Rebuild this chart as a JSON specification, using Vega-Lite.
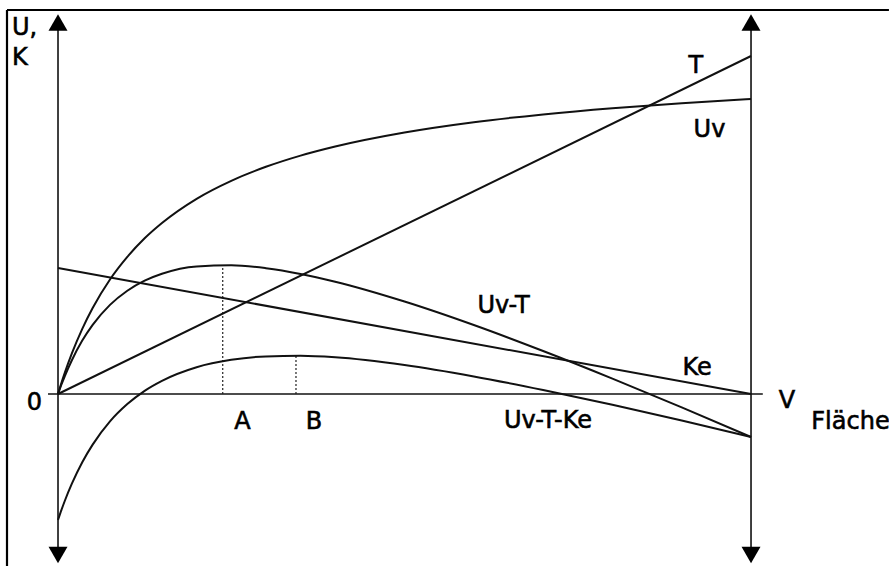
{
  "$schema": "https://vega.github.io/schema/vega-lite/v6.json",
  "width": 889,
  "height": 566,
  "autosize": {"type": "none"},
  "padding": 0,
  "background": "white",
  "config": {"view": {"stroke": null}},
  "datasets": {
    "frame": [
      {"x": -0.736, "x2": 11.99, "y": 384, "y2": 384},
      {"x": -0.736, "x2": -0.736, "y": 384, "y2": -172}
    ],
    "axes": [
      {"x": 0, "x2": 0, "y": -160, "y2": 366},
      {"x": 10, "x2": 10, "y": -160, "y2": 366},
      {"x": -0.144, "x2": 10.17, "y": 0, "y2": 0}
    ],
    "arrows": [
      {"x": 0, "y": 371.5, "shape": "triangle-up"},
      {"x": 10, "y": 371.5, "shape": "triangle-up"},
      {"x": 0, "y": -161, "shape": "triangle-down"},
      {"x": 10, "y": -161, "shape": "triangle-down"}
    ],
    "guides": [
      {"x": 2.377, "y": 0, "y2": 128},
      {"x": 3.434, "y": 0, "y2": 38}
    ],
    "curves": [
      {"series": "T", "x": 0, "value": 0},
      {"series": "T", "x": 10, "value": 338},
      {"series": "Ke", "x": 0, "value": 126},
      {"series": "Ke", "x": 10, "value": 0},
      {"series": "Uv", "x": 0, "value": 0},
      {"series": "Uv", "x": 0.05, "value": 11.2},
      {"series": "Uv", "x": 0.1, "value": 21.6},
      {"series": "Uv", "x": 0.2, "value": 40.6},
      {"series": "Uv", "x": 0.35, "value": 65.2},
      {"series": "Uv", "x": 0.5, "value": 86.0},
      {"series": "Uv", "x": 0.75, "value": 114.5},
      {"series": "Uv", "x": 1, "value": 137.1},
      {"series": "Uv", "x": 1.25, "value": 155.7},
      {"series": "Uv", "x": 1.5, "value": 171.0},
      {"series": "Uv", "x": 2, "value": 195.2},
      {"series": "Uv", "x": 2.5, "value": 213.2},
      {"series": "Uv", "x": 3, "value": 227.2},
      {"series": "Uv", "x": 3.5, "value": 238.4},
      {"series": "Uv", "x": 4, "value": 247.5},
      {"series": "Uv", "x": 5, "value": 261.5},
      {"series": "Uv", "x": 6, "value": 271.8},
      {"series": "Uv", "x": 7, "value": 279.6},
      {"series": "Uv", "x": 8, "value": 285.8},
      {"series": "Uv", "x": 9, "value": 290.8},
      {"series": "Uv", "x": 10, "value": 295.0},
      {"series": "Uv-T", "x": 0, "value": 0},
      {"series": "Uv-T", "x": 0.05, "value": 9.5},
      {"series": "Uv-T", "x": 0.1, "value": 18.2},
      {"series": "Uv-T", "x": 0.2, "value": 33.8},
      {"series": "Uv-T", "x": 0.35, "value": 53.4},
      {"series": "Uv-T", "x": 0.5, "value": 69.1},
      {"series": "Uv-T", "x": 0.75, "value": 89.1},
      {"series": "Uv-T", "x": 1, "value": 103.3},
      {"series": "Uv-T", "x": 1.25, "value": 113.4},
      {"series": "Uv-T", "x": 1.5, "value": 120.3},
      {"series": "Uv-T", "x": 2, "value": 127.6},
      {"series": "Uv-T", "x": 2.5, "value": 128.7},
      {"series": "Uv-T", "x": 3, "value": 125.8},
      {"series": "Uv-T", "x": 3.5, "value": 120.1},
      {"series": "Uv-T", "x": 4, "value": 112.3},
      {"series": "Uv-T", "x": 5, "value": 92.5},
      {"series": "Uv-T", "x": 6, "value": 69.0},
      {"series": "Uv-T", "x": 7, "value": 43.0},
      {"series": "Uv-T", "x": 8, "value": 15.4},
      {"series": "Uv-T", "x": 9, "value": -13.4},
      {"series": "Uv-T", "x": 10, "value": -43},
      {"series": "Uv-T-Ke", "x": 0, "value": -126},
      {"series": "Uv-T-Ke", "x": 0.05, "value": -115.9},
      {"series": "Uv-T-Ke", "x": 0.1, "value": -106.5},
      {"series": "Uv-T-Ke", "x": 0.2, "value": -89.7},
      {"series": "Uv-T-Ke", "x": 0.35, "value": -68.2},
      {"series": "Uv-T-Ke", "x": 0.5, "value": -50.6},
      {"series": "Uv-T-Ke", "x": 0.75, "value": -27.4},
      {"series": "Uv-T-Ke", "x": 1, "value": -10.1},
      {"series": "Uv-T-Ke", "x": 1.25, "value": 3.2},
      {"series": "Uv-T-Ke", "x": 1.5, "value": 13.2},
      {"series": "Uv-T-Ke", "x": 2, "value": 26.8},
      {"series": "Uv-T-Ke", "x": 2.5, "value": 34.2},
      {"series": "Uv-T-Ke", "x": 3, "value": 37.6},
      {"series": "Uv-T-Ke", "x": 3.5, "value": 38.2},
      {"series": "Uv-T-Ke", "x": 4, "value": 36.7},
      {"series": "Uv-T-Ke", "x": 5, "value": 29.0},
      {"series": "Uv-T-Ke", "x": 6, "value": 17.6},
      {"series": "Uv-T-Ke", "x": 7, "value": 4.0},
      {"series": "Uv-T-Ke", "x": 8, "value": -10.8},
      {"series": "Uv-T-Ke", "x": 9, "value": -26.5},
      {"series": "Uv-T-Ke", "x": 10, "value": -43}
    ],
    "labelsCenter": [
      {"text": "0", "x": -0.339, "y": -16},
      {"text": "A", "x": 2.662, "y": -35},
      {"text": "B", "x": 3.694, "y": -35},
      {"text": "Uv-T-Ke", "x": 7.071, "y": -34},
      {"text": "V", "x": 10.519, "y": -14},
      {"text": "Ke", "x": 9.221, "y": 19},
      {"text": "Uv-T", "x": 6.43, "y": 81},
      {"text": "T", "x": 9.202, "y": 321},
      {"text": "Uv", "x": 9.401, "y": 257}
    ],
    "labelsLeft": [
      {"text": "U,", "x": -0.664, "y": 359},
      {"text": "K", "x": -0.664, "y": 329},
      {"text": "Fläche", "x": 10.87, "y": -35}
    ]
  },
  "layer": [
    {
      "data": {"name": "frame"},
      "mark": {"type": "rule", "color": "black", "strokeWidth": 2.2},
      "encoding": {
        "x": {"field": "x", "type": "quantitative", "scale": {"domain": [-0.837, 11.991], "nice": false, "zero": false}, "axis": null},
        "x2": {"field": "x2"},
        "y": {"field": "y", "type": "quantitative", "scale": {"domain": [-172, 394], "nice": false, "zero": false}, "axis": null},
        "y2": {"field": "y2"}
      }
    },
    {
      "data": {"name": "axes"},
      "mark": {"type": "rule", "color": "#111", "strokeWidth": 1.6},
      "encoding": {
        "x": {"field": "x", "type": "quantitative"},
        "x2": {"field": "x2"},
        "y": {"field": "y", "type": "quantitative"},
        "y2": {"field": "y2"}
      }
    },
    {
      "data": {"name": "arrows"},
      "mark": {"type": "point", "filled": true, "color": "black", "opacity": 1, "size": 360},
      "encoding": {
        "x": {"field": "x", "type": "quantitative"},
        "y": {"field": "y", "type": "quantitative"},
        "shape": {"field": "shape", "type": "nominal", "scale": null}
      }
    },
    {
      "data": {"name": "guides"},
      "mark": {"type": "rule", "color": "#222", "strokeWidth": 1.2, "strokeDash": [2, 2]},
      "encoding": {
        "x": {"field": "x", "type": "quantitative"},
        "y": {"field": "y", "type": "quantitative"},
        "y2": {"field": "y2"}
      }
    },
    {
      "data": {"name": "curves"},
      "mark": {"type": "line", "color": "#111", "strokeWidth": 2, "interpolate": "monotone"},
      "encoding": {
        "x": {"field": "x", "type": "quantitative"},
        "y": {"field": "value", "type": "quantitative"},
        "detail": {"field": "series", "type": "nominal"}
      }
    },
    {
      "data": {"name": "labelsCenter"},
      "mark": {"type": "text", "font": "DejaVu Sans", "fontSize": 24, "align": "center", "baseline": "alphabetic", "color": "black", "stroke": "black", "strokeWidth": 0.6},
      "encoding": {
        "x": {"field": "x", "type": "quantitative"},
        "y": {"field": "y", "type": "quantitative"},
        "text": {"field": "text", "type": "nominal"}
      }
    },
    {
      "data": {"name": "labelsLeft"},
      "mark": {"type": "text", "font": "DejaVu Sans", "fontSize": 24, "align": "left", "baseline": "alphabetic", "color": "black", "stroke": "black", "strokeWidth": 0.6},
      "encoding": {
        "x": {"field": "x", "type": "quantitative"},
        "y": {"field": "y", "type": "quantitative"},
        "text": {"field": "text", "type": "nominal"}
      }
    }
  ]
}
